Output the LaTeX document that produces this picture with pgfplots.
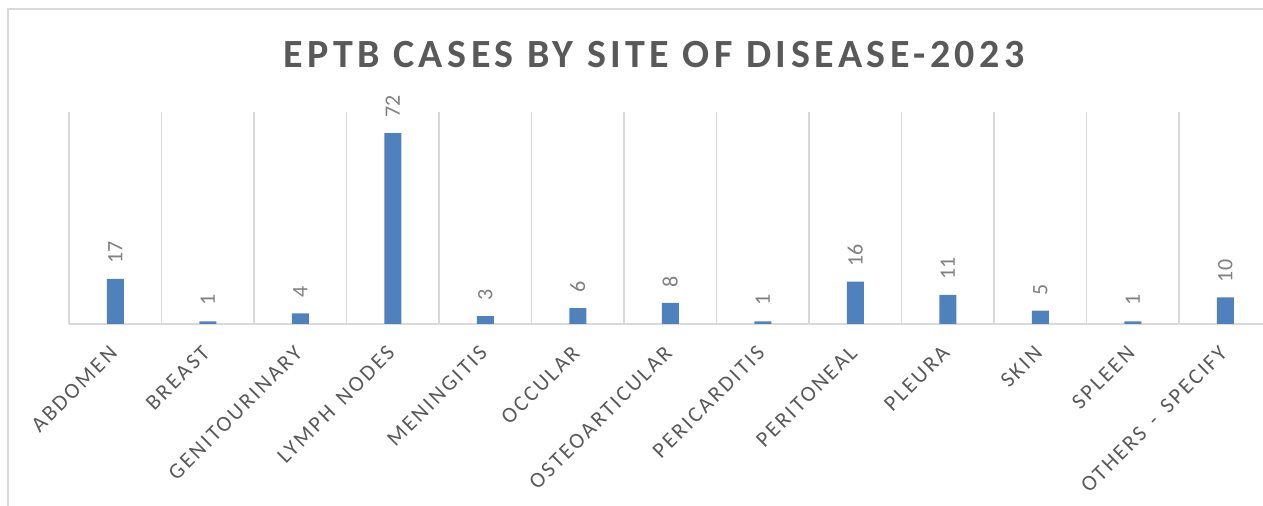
\documentclass[border=0pt]{standalone}
\usepackage{fontspec}
\setmainfont{Carlito}
\newfontfamily\titlefont[LetterSpace=11.2]{Carlito}
\newfontfamily\tickfont[LetterSpace=11, WordSpace=1.5]{Carlito}
\usepackage{pgfplots}
\pgfplotsset{compat=1.18}
\definecolor{barblue}{HTML}{4F81BD}
\definecolor{gridgray}{HTML}{D9D9D9}
\definecolor{textgray}{HTML}{595959}
\definecolor{valgray}{HTML}{808080}
\begin{document}
\begin{tikzpicture}
\path[use as bounding box] (0,0) rectangle (631.5pt,253pt);
\draw[gridgray, line width=0.75pt] (4pt,-2pt) -- (4pt,248.5pt) -- (640pt,248.5pt);
\node[text=textgray, font=\titlefont\bfseries\fontsize{20}{24}\selectfont] at (327pt,225.5pt) {EPTB CASES BY SITE OF DISEASE-2023};
\begin{axis}[
    at={(34.5pt,91pt)}, anchor=south west,
    scale only axis, width=597pt, height=106pt,
    xmin=-0.5, xmax=12.408, ymin=0, ymax=80,
    axis x line=bottom, axis y line=none,
    axis line style={-, gridgray, line width=0.75pt},
    xtick={0,...,12},
    xticklabels={ABDOMEN, BREAST, GENITOURINARY, LYMPH NODES, MENINGITIS, OCCULAR, OSTEOARTICULAR, PERICARDITIS, PERITONEAL, PLEURA, SKIN, SPLEEN, OTHERS - SPECIFY},
    major tick length=0pt,
    minor xtick={-0.5,0.5,...,11.5},
    minor tick length=0pt,
    xminorgrids,
    minor grid style={gridgray, line width=0.75pt},
    xticklabel style={xshift=-3.5pt, yshift=-10pt, rotate=45, anchor=north east, inner sep=0pt, text=textgray, font=\tickfont\fontsize{11}{13}\selectfont},
    /pgf/number format/assume math mode=true,
    ybar, bar width=8.5pt,
    nodes near coords,
    every node near coord/.append style={anchor=west, rotate=90, inner sep=0pt, inner xsep=7.5pt, text=valgray, font=\fontsize{11}{13}\selectfont},
    clip=false,
]
\addplot[fill=barblue, draw=none] coordinates {
    (0,17) (1,1) (2,4) (3,72) (4,3) (5,6) (6,8)
    (7,1) (8,16) (9,11) (10,5) (11,1) (12,10)
};
\end{axis}
\end{tikzpicture}
\end{document}
